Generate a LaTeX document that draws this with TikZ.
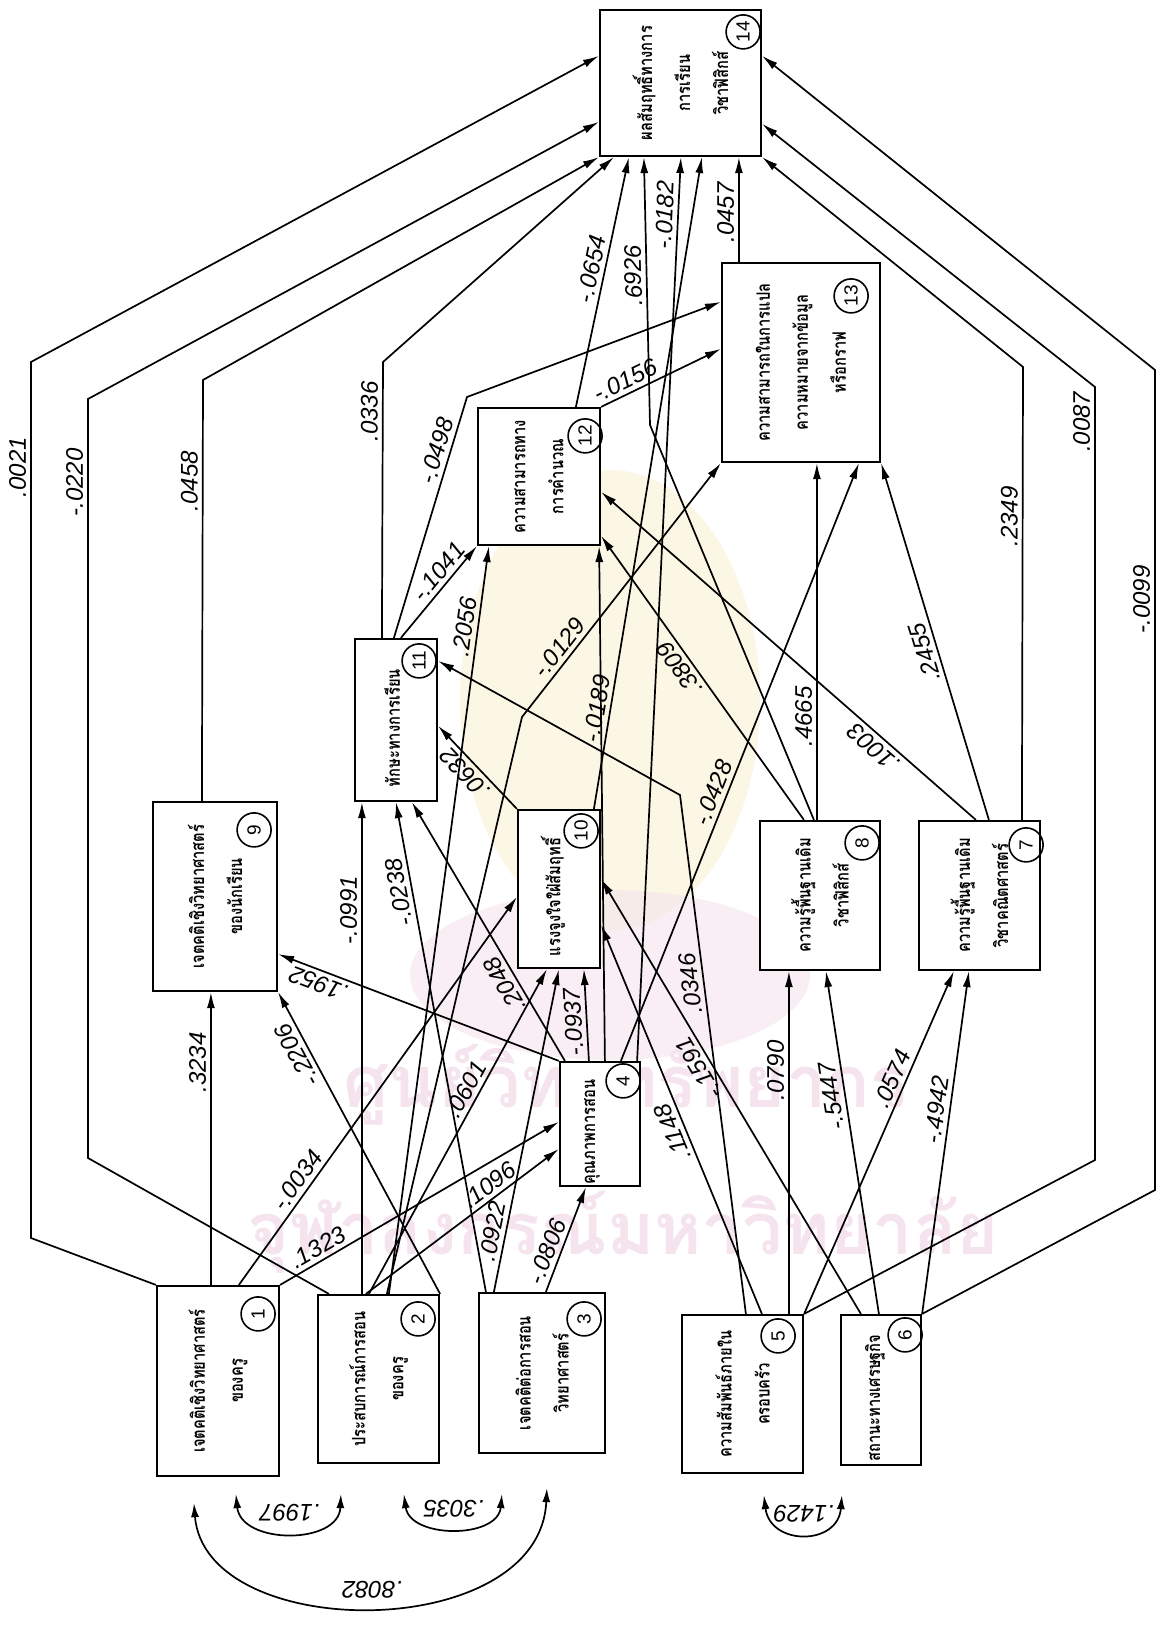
\documentclass[tikz,border=0pt]{standalone}
\usepackage{fontspec}
\newfontfamily\thaifont[Script=Thai,FakeStretch=0.8]{Loma}
\newfontfamily\wmfont[Script=Thai]{Loma}
\newfontfamily\labfont{Liberation Sans}
\usetikzlibrary{arrows.meta,calc,fit}
\definecolor{wmpink}{RGB}{245,228,238}
\definecolor{wmgold}{RGB}{252,246,228}
\begin{document}
\begin{tikzpicture}[x=0.5pt,y=-0.5pt,
  box/.style={draw,fill=white,line width=1.1pt,inner sep=0pt},
  boxtext/.style={rotate=90,align=center,inner sep=0pt,font=\thaifont\bfseries\fontsize{9.2}{19}\selectfont},
  num/.style={draw,circle,line width=0.8pt,minimum size=17pt,inner sep=0pt,rotate=90,font=\labfont\fontsize{9.5}{10}\selectfont},
  conn/.style={line width=0.85pt,-{Latex[length=8pt,width=4pt]}},
  both/.style={line width=0.85pt,{Latex[length=7pt,width=4pt]}-{Latex[length=7pt,width=4pt]}},
  lab/.style={sloped,allow upside down,above=1pt,inner sep=1pt,font=\labfont\itshape\fontsize{12}{12}\selectfont},
  clab/.style={rotate=180,inner sep=1pt,font=\labfont\itshape\fontsize{12}{12}\selectfont},
  wm/.style={text=wmpink,inner sep=0pt,font=\wmfont\bfseries\fontsize{36}{40}\selectfont},
]
\useasboundingbox[fill=white] (0,0) rectangle (1161,1636);

% ---------- library stamp in the background ----------
\fill[wmgold] (610,700) ellipse (150 and 230);
\fill[wmpink,opacity=0.6] (610,975) ellipse (200 and 85);
\node[wm] (wm1) at (626,1085) {ศูนย์วิทยทรัพยากร};
\node[wm] (wm2) at (623,1232) {จุฬาลงกรณ์มหาวิทยาลัย};

% ---------- variables ----------
\node[box,fit={(600,10)(761,156)}] (b14) {};
\node[boxtext] at (b14.center) {ผลสัมฤทธิ์ทางการ\\การเรียน\\วิชาฟิสิกส์};
\node[num] at ($(b14.north east)+(-19,23)$) {14};

\node[box,fit={(722,263)(880,462)}] (b13) {};
\node[boxtext] at (b13.center) {ความสามารถในการแปล\\ความหมายจากข้อมูล\\หรือกราฟ};
\node[num] at ($(b13.north east)+(-30,34)$) {13};

\node[box,fit={(478,408)(600,545)}] (b12) {};
\node[boxtext] at (b12.center) {ความสามารถทาง\\การคำนวณ};
\node[num] at ($(b12.north east)+(-16,29)$) {12};

\node[box,fit={(355,639)(437,801)}] (b11) {};
\node[boxtext] at ($(b11.center)+(-4,8)$) {ทักษะทางการเรียน};
\node[num] at ($(b11.north east)+(-19,23)$) {11};

\node[box,fit={(153,802)(277,991)}] (b9) {};
\node[boxtext] at (b9.center) {เจตคติเชิงวิทยาศาสตร์\\ของนักเรียน};
\node[num] at ($(b9.north east)+(-24,29)$) {9};

\node[box,fit={(518,810)(600,968)}] (b10) {};
\node[boxtext] at ($(b10.center)+(-6,8)$) {แรงจูงใจใฝ่สัมฤทธิ์};
\node[num] at ($(b10.north east)+(-20,22)$) {10};

\node[box,fit={(760,821)(880,970)}] (b8) {};
\node[boxtext] at (b8.center) {ความรู้พื้นฐานเดิม\\วิชาฟิสิกส์};
\node[num] at ($(b8.north east)+(-19,23)$) {8};

\node[box,fit={(919,821)(1040,970)}] (b7) {};
\node[boxtext] at (b7.center) {ความรู้พื้นฐานเดิม\\วิชาคณิตศาสตร์};
\node[num] at ($(b7.north east)+(-15,25)$) {7};

\node[box,fit={(560,1062)(640,1186)}] (b4) {};
\node[boxtext] at ($(b4.center)+(-8,8)$) {คุณภาพการสอน};
\node[num] at ($(b4.north east)+(-18,20)$) {4};

\node[box,fit={(157,1286)(279,1476)}] (b1) {};
\node[boxtext] at (b1.center) {เจตคติเชิงวิทยาศาสตร์\\ของครู};
\node[num] at ($(b1.north east)+(-22,29)$) {1};

\node[box,fit={(318,1295)(439,1463)}] (b2) {};
\node[boxtext] at (b2.center) {ประสบการณ์การสอน\\ของครู};
\node[num] at ($(b2.north east)+(-22,25)$) {2};

\node[box,fit={(479,1293)(605,1453)}] (b3) {};
\node[boxtext] at (b3.center) {เจตคติต่อการสอน\\วิทยาศาสตร์};
\node[num] at ($(b3.north east)+(-22,27)$) {3};

\node[box,fit={(682,1315)(803,1473)}] (b5) {};
\node[boxtext] at (b5.center) {ความสัมพันธ์ภายใน\\ครอบครัว};
\node[num] at ($(b5.north east)+(-26,22)$) {5};

\node[box,fit={(841,1315)(921,1465)}] (b6) {};
\node[boxtext] at ($(b6.center)+(-6,8)$) {สถานะทางเศรษฐกิจ};
\node[num] at ($(b6.north east)+(-17,21)$) {6};

% ---------- bend points of the routed paths ----------
\coordinate (k1a) at (31,1238);   \coordinate (k1b) at (31,362);
\coordinate (k2a) at (88,1158);   \coordinate (k2b) at (88,399);
\coordinate (k9)  at (203,380);
\coordinate (k11) at (383,362);
\coordinate (k11m) at (467,397);
\coordinate (k8)  at (650,425);
\coordinate (k7)  at (1023,367);
\coordinate (k5a) at (1095,1160); \coordinate (k5b) at (1095,387);
\coordinate (k6a) at (1155,1190); \coordinate (k6b) at (1155,370);
\coordinate (k5m) at (680,795);
\coordinate (k2m) at (522,717);

% ---------- paths into 14 ----------
\draw[conn] (b1.north west) -- (k1a) -- (k1b) node[lab,pos=0.88]{.0021} -- ($(b14.north west)+(0,47)$);
\draw[conn] ($(b2.north west)+(12,0)$) -- (k2a) -- (k2b) node[lab,pos=0.89]{-.0220} -- ($(b14.north west)+(0,113)$);
\draw[conn] ($(b9.north west)+(50,0)$) -- (k9) node[lab,pos=0.76]{.0458} -- (b14.south west);
\draw[conn] ($(b11.north west)+(28,0)$) -- (k11) node[lab,pos=0.82]{.0336} -- ($(b14.south west)+(15,0)$);
\draw[conn] ($(b12.north west)+(99,0)$) -- node[lab,pos=0.54]{-.0654} ($(b14.south west)+(30,0)$);
\draw[conn] ($(b8.north west)+(55,0)$) -- (k8) -- node[lab,pos=0.56]{.6926} ($(b14.south west)+(45,0)$);
\draw[conn] ($(b4.north east)+(-4,0)$) -- node[lab,pos=0.935]{-.0182} ($(b14.south west)+(82,0)$);
\draw[conn] ($(b10.north west)+(77,0)$) -- node[lab,pos=0.15]{-.0189} ($(b14.south west)+(103,0)$);
\draw[conn] ($(b13.north west)+(18,0)$) -- node[lab,pos=0.47]{.0457} ($(b14.south west)+(140,0)$);
\draw[conn] ($(b7.north west)+(104,0)$) -- (k7) node[lab,pos=0.67]{.2349} -- (b14.south east);
\draw[conn] (b5.north east) -- (k5a) -- (k5b) node[lab,pos=0.955]{.0087} -- ($(b14.north east)+(0,115)$);
\draw[conn] (b6.north east) -- (k6a) -- (k6b) node[lab,pos=0.72]{-.0099} -- ($(b14.north east)+(0,47)$);

% ---------- paths into 13 ----------
\draw[conn] ($(b11.north west)+(40,0)$) -- node[lab,pos=0.76]{-.0498} (k11m) -- ($(b13.north west)+(0,40)$);
\draw[conn] (b12.north east) -- node[lab,pos=0.25]{-.0156} ($(b13.north west)+(0,87)$);
\draw[conn] ($(b2.north west)+(70,0)$) -- (k2m) -- node[lab,pos=0.24]{-.0129} (b13.south west);
\draw[conn] ($(b8.north west)+(58,0)$) -- node[lab,pos=0.29]{.4665} ($(b13.south west)+(96,0)$);
\draw[conn] ($(b4.north west)+(62,0)$) -- node[lab,pos=0.44]{-.0428} ($(b13.south west)+(138,0)$);
\draw[conn] ($(b7.north west)+(71,0)$) -- node[lab,pos=0.48]{.2455} (b13.south east);

% ---------- paths into 12 ----------
\draw[conn] ($(b11.north west)+(47,0)$) -- node[lab,pos=0.63]{-.1041} (b12.south west);
\draw[conn] ($(b2.north west)+(72,0)$) -- node[lab,pos=0.89]{.2056} ($(b12.south west)+(12,0)$);
\draw[conn] ($(b4.north west)+(46,0)$) -- ($(b12.south east)+(-2,0)$);
\draw[conn] ($(b8.north west)+(45,0)$) -- node[lab,pos=0.56]{.3809} ($(b12.north east)+(0,129)$);
\draw[conn] ($(b7.north west)+(58,0)$) -- node[lab,pos=0.25]{.1003} ($(b12.north east)+(0,85)$);

% ---------- paths into 11 ----------
\draw[conn] ($(b2.north west)+(45,0)$) -- node[lab,pos=0.78]{-.0991} ($(b11.south west)+(8,0)$);
\draw[conn] ($(b3.north west)+(8,0)$) -- node[lab,pos=0.82]{-.0238} ($(b11.south west)+(42,0)$);
\draw[conn] ($(b4.north west)+(6,0)$) -- node[lab,pos=0.32]{.2048} ($(b11.south west)+(58,0)$);
\draw[conn] (b10.north west) -- node[lab,pos=0.54]{.0632} ($(b11.north east)+(0,88)$);
\draw[conn] ($(b5.north west)+(65,0)$) -- node[lab,pos=0.64]{.0346} (k5m) -- ($(b11.north east)+(0,23)$);

% ---------- paths into 10 ----------
\draw[conn] ($(b1.north west)+(83,0)$) -- node[lab,pos=0.25]{-.0034} ($(b10.north west)+(0,88)$);
\draw[conn] ($(b2.north west)+(52,0)$) -- node[lab,pos=0.61]{.0601} ($(b10.south west)+(30,0)$);
\draw[conn] ($(b3.north west)+(16,0)$) -- node[lab,pos=0.18]{.0922} ($(b10.south west)+(42,0)$);
\draw[conn] ($(b4.north west)+(30,0)$) -- node[lab,pos=0.43]{-.0937} ($(b10.south west)+(67,0)$);
\draw[conn] ($(b6.north west)+(21,0)$) -- node[lab,pos=0.58]{-.1591} ($(b10.north east)+(0,70)$);
\draw[conn] ($(b5.north west)+(81,0)$) -- node[lab,pos=0.48]{.1148} ($(b10.north east)+(0,116)$);

% ---------- paths into 9 ----------
\draw[conn] ($(b1.north west)+(55,0)$) -- node[lab,pos=0.76]{.3234} ($(b9.south west)+(59,0)$);
\draw[conn] (b2.north east) -- node[lab,pos=0.81]{-.2206} (b9.south east);
\draw[conn] (b4.north west) -- node[lab,pos=0.84]{.1952} ($(b9.south east)+(0,-38)$);

% ---------- paths into 8 and 7 ----------
\draw[conn] ($(b5.north west)+(108,0)$) -- node[lab,pos=0.71]{.0790} ($(b8.south west)+(30,0)$);
\draw[conn] ($(b6.north west)+(39,0)$) -- node[lab,pos=0.64]{-.5447} ($(b8.south west)+(67,0)$);
\draw[conn] (b5.north east) -- node[lab,pos=0.67]{.0574} ($(b7.south west)+(36,0)$);
\draw[conn] (b6.north east) -- node[lab,pos=0.59]{-.4942} ($(b7.south west)+(51,0)$);

% ---------- paths into 4 ----------
\draw[conn] (b1.north east) -- node[lab,pos=0.16]{.1323} ($(b4.north west)+(0,61)$);
\draw[conn] ($(b2.north west)+(49,0)$) -- node[lab,pos=0.68]{.1096} ($(b4.north west)+(0,88)$);
\draw[conn] ($(b3.north west)+(68,0)$) -- node[lab,pos=0.34]{-.0806} ($(b4.south west)+(27,0)$);

% ---------- correlations ----------
\coordinate (r1a) at ($(b1.south west)+(80,17)$);
\coordinate (r1b) at ($(b1.south west)+(38,26)$);
\coordinate (r2a) at ($(b2.south west)+(24,30)$);
\coordinate (r2b) at ($(b2.south west)+(87,30)$);
\coordinate (r3a) at ($(b3.south west)+(24,40)$);
\coordinate (r3b) at ($(b3.south west)+(69,34)$);
\coordinate (r5)  at ($(b5.south west)+(83,21)$);
\coordinate (r6)  at ($(b6.south west)+(2,29)$);
\draw[both] (r1a) .. controls (241,1545) and (339,1545) .. (r2a) node[clab,pos=0.5,below=4pt]{.1997};
\draw[both] (r2b) .. controls (410,1539) and (498,1539) .. (r3a) node[clab,pos=0.5,below=4pt]{.3035};
\draw[both] (r1b) .. controls (205,1644) and (540,1644) .. (r3b) node[clab,pos=0.5,below=3pt]{.8082};
\draw[both] (r5) .. controls (770,1546) and (838,1546) .. (r6) node[clab,pos=0.5,below=4pt]{.1429};
\end{tikzpicture}
\end{document}
